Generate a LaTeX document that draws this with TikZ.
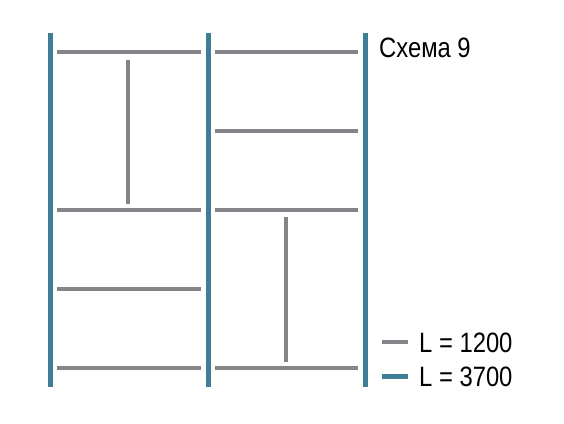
\documentclass[tikz,border=0pt]{standalone}
\usepackage{fontspec}
\setmainfont[FakeStretch=0.85]{Liberation Sans}
\definecolor{postblue}{RGB}{62,127,150}
\definecolor{shelfgray}{RGB}{132,132,137}
\tikzset{
  post/.style={draw=postblue,line width=5pt},
  shelf/.style={draw=shelfgray,line width=4.5pt},
  lbl/.style={anchor=west,inner sep=0pt,font=\fontsize{28}{30}\selectfont}
}
\begin{document}
\begin{tikzpicture}[x=1pt,y=-1pt]
\useasboundingbox (0,0) rectangle (564,423);
% posts
\foreach \x in {50,208,365} \draw[post] (\x,33) -- (\x,387);
% left shelves
\foreach \y in {52,210,289,368} \draw[shelf] (57,\y) -- (201,\y);
% right shelves
\foreach \y in {52,131,210,368} \draw[shelf] (215,\y) -- (358,\y);
% vertical dividers
\draw[shelf] (128,60) -- (128,204);
\draw[shelf] (286,217) -- (286,362);
% title
\node[lbl] (title) at (379,48) {Схема 9};
% legend
\node[lbl] (l1) at (419,343) {L = 1200};
\node[lbl] (l2) at (419,377) {L = 3700};
\draw[shelf] (382,342) -- (408,342);
\draw[post] (382,376) -- (408,376);
\end{tikzpicture}
\end{document}
